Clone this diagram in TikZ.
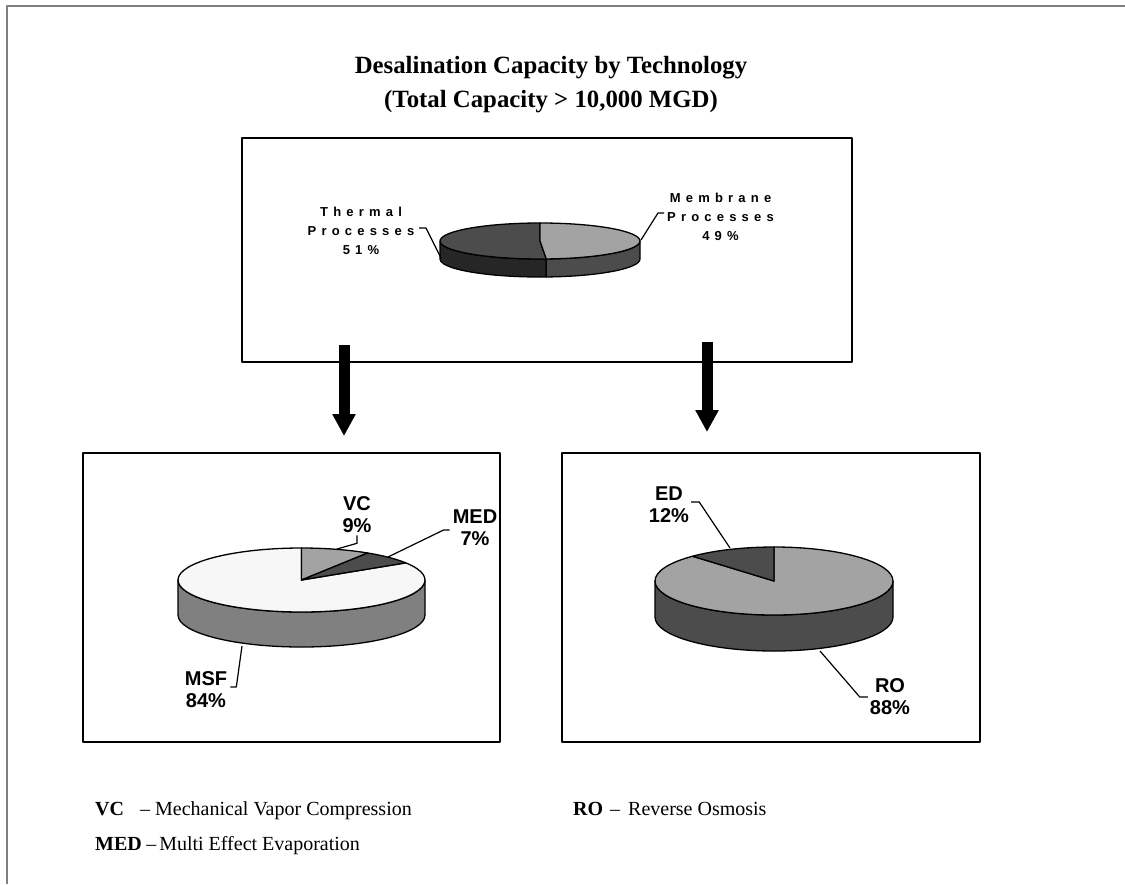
\documentclass[tikz,border=0pt]{standalone}
\usepackage{fontspec}
\setmainfont{Liberation Serif}
\setsansfont{Liberation Sans}
\newfontfamily\spacedsans[LetterSpace=40]{Liberation Sans}
\usetikzlibrary{arrows.meta}
\usepackage{xcolor}

\definecolor{sliceblack}{gray}{0.15}
\definecolor{slicedark}{gray}{0.30}
\definecolor{slicemid}{gray}{0.50}
\definecolor{slicelight}{gray}{0.64}
\definecolor{slicepale}{gray}{0.97}
\definecolor{framegray}{gray}{0.50}

\tikzset{
  box/.style={draw=black, line width=1.6},
  pieedge/.style={draw=black, line width=1.3},
  leader/.style={draw=black, line width=1.2},
  bigarrow/.style={line width=11, -{Triangle[width=22pt, length=22pt]}},
  titletext/.style={font=\bfseries\fontsize{24.8}{34}\selectfont, align=center, inner sep=0},
  toplabel/.style={font=\spacedsans\bfseries\fontsize{13}{19}\selectfont, align=center, inner sep=0},
  pielabel/.style={font=\sffamily\bfseries\fontsize{20}{22}\selectfont, align=center, inner sep=0},
  legendtext/.style={font=\fontsize{20}{24}\selectfont, anchor=base west, inner sep=0}
}

\begin{document}
\begin{tikzpicture}[x=1pt, y=-1pt, line join=round]

  \useasboundingbox (0,0) rectangle (1125,884);

  % Frame
  \draw[framegray, line width=2.5] (7,884) -- (7,6) -- (1125,6);

  % Title
  \node[titletext] (title) at (551,85) {Desalination Capacity by Technology\\(Total Capacity > 10,000 MGD)};

  % Boxes
  \draw[box] (242,138) rectangle (852,362);
  \draw[box] (83,453) rectangle (500,742);
  \draw[box] (562,453) rectangle (980,742);

  % Top pie: thermal / membrane
  \def\cx{540}\def\cy{241}\def\rx{100}\def\ry{18}\def\ph{18}
  \filldraw[pieedge, fill=sliceblack] (\cx,\cy) ++({\rx*cos(86.4)},{\ry*sin(86.4)}) arc[start angle=86.4, end angle=180, x radius=\rx, y radius=\ry] -- ++(0,\ph) arc[start angle=180, end angle=86.4, x radius=\rx, y radius=\ry] -- cycle;
  \filldraw[pieedge, fill=slicedark] (\cx,\cy) ++(\rx,0) arc[start angle=0, end angle=86.4, x radius=\rx, y radius=\ry] -- ++(0,\ph) arc[start angle=86.4, end angle=0, x radius=\rx, y radius=\ry] -- cycle;
  \filldraw[pieedge, fill=slicedark] (\cx,\cy) -- ++({\rx*cos(86.4)},{\ry*sin(86.4)}) arc[start angle=86.4, end angle=270, x radius=\rx, y radius=\ry] -- cycle;
  \filldraw[pieedge, fill=slicelight] (\cx,\cy) -- ++(0,-\ry) arc[start angle=-90, end angle=86.4, x radius=\rx, y radius=\ry] -- cycle;
  \coordinate (thermal pt) at (441,258);
  \coordinate (membrane pt) at (641,240);

  \node[toplabel] (thermal) at (361,231) {Thermal\\Processes\\51\%};
  \node[toplabel, anchor=west] (membrane) at (667,217) {Membrane\\Processes\\49\%};
  \draw[leader] (419,228) -- (426,228) -- (thermal pt);
  \draw[leader] (membrane.west) ++(-3,-4) -- ++(-6,0) -- (membrane pt);

  % Arrows
  \coordinate (thermal from) at (344,345);
  \coordinate (thermal to) at (344,436);
  \coordinate (membrane from) at (707,342);
  \coordinate (membrane to) at (707,432);
  \draw[bigarrow] (thermal from) -- (thermal to);
  \draw[bigarrow] (membrane from) -- (membrane to);

  % Left pie: MSF / VC / MED
  \def\cx{301.5}\def\cy{580}\def\rx{123.5}\def\ry{32}\def\ph{35}
  \filldraw[pieedge, fill=slicemid] (\cx,\cy) ++(\rx,0) arc[start angle=0, end angle=180, x radius=\rx, y radius=\ry] -- ++(0,\ph) arc[start angle=180, end angle=0, x radius=\rx, y radius=\ry] -- cycle;
  \filldraw[pieedge, fill=slicepale] (\cx,\cy) -- ++({\rx*cos(-32.4)},{\ry*sin(-32.4)}) arc[start angle=-32.4, end angle=270, x radius=\rx, y radius=\ry] -- cycle;
  \filldraw[pieedge, fill=slicelight] (\cx,\cy) -- ++(0,-\ry) arc[start angle=-90, end angle=-57.6, x radius=\rx, y radius=\ry] -- cycle;
  \filldraw[pieedge, fill=slicedark] (\cx,\cy) -- ++({\rx*cos(-57.6)},{\ry*sin(-57.6)}) arc[start angle=-57.6, end angle=-32.4, x radius=\rx, y radius=\ry] -- cycle;
  \coordinate (vc pt) at (337,549);
  \coordinate (med pt) at (388,557);
  \coordinate (msf pt) at (242,646);

  \node[pielabel] (vc) at (357,515) {VC\\9\%};
  \node[pielabel] (med) at (475,528) {MED\\7\%};
  \node[pielabel] (msf) at (206,690) {MSF\\84\%};
  \draw[leader] (vc.south) ++(0,2) -- ++(0,8) -- (vc pt);
  \draw[leader] (med.west) ++(-3,2) -- ++(-6,0) -- (med pt);
  \draw[leader] (msf.east) ++(3,-3) -- ++(6,0) -- (msf pt);

  % Right pie: RO / ED
  \def\cx{774}\def\cy{581}\def\rx{119}\def\ry{34}\def\ph{36}
  \filldraw[pieedge, fill=slicedark] (\cx,\cy) ++(\rx,0) arc[start angle=0, end angle=180, x radius=\rx, y radius=\ry] -- ++(0,\ph) arc[start angle=180, end angle=0, x radius=\rx, y radius=\ry] -- cycle;
  \filldraw[pieedge, fill=slicelight] (\cx,\cy) -- ++(0,-\ry) arc[start angle=-90, end angle=226.8, x radius=\rx, y radius=\ry] -- cycle;
  \filldraw[pieedge, fill=slicedark] (\cx,\cy) -- ++({\rx*cos(226.8)},{\ry*sin(226.8)}) arc[start angle=226.8, end angle=270, x radius=\rx, y radius=\ry] -- cycle;
  \coordinate (ed pt) at (730,548);
  \coordinate (ro pt) at (820,651);

  \node[pielabel] (ed) at (669,505) {ED\\12\%};
  \node[pielabel] (ro) at (890,697) {RO\\88\%};
  \draw[leader] (ed.east) ++(2,-3) -- ++(8,0) -- (ed pt);
  \draw[leader] (ro.west) ++(-2,0) -- ++(-8,0) -- (ro pt);

  % Legend
  \node[legendtext] (vc key) at (95,815) {\textbf{VC}};
  \node[legendtext] (vc text) at (140,815) {--\hspace{5pt}Mechanical Vapor Compression};
  \node[legendtext] (med key) at (95,850) {\textbf{MED}};
  \node[legendtext] (med text) at ([xshift=4pt]med key.base east) {--\hspace{3pt}Multi Effect Evaporation};
  \node[legendtext] (ro key) at (573,815) {\textbf{RO}};
  \node[legendtext] (ro text) at (610,815) {--\hspace{8pt}Reverse Osmosis};

\end{tikzpicture}
\end{document}
